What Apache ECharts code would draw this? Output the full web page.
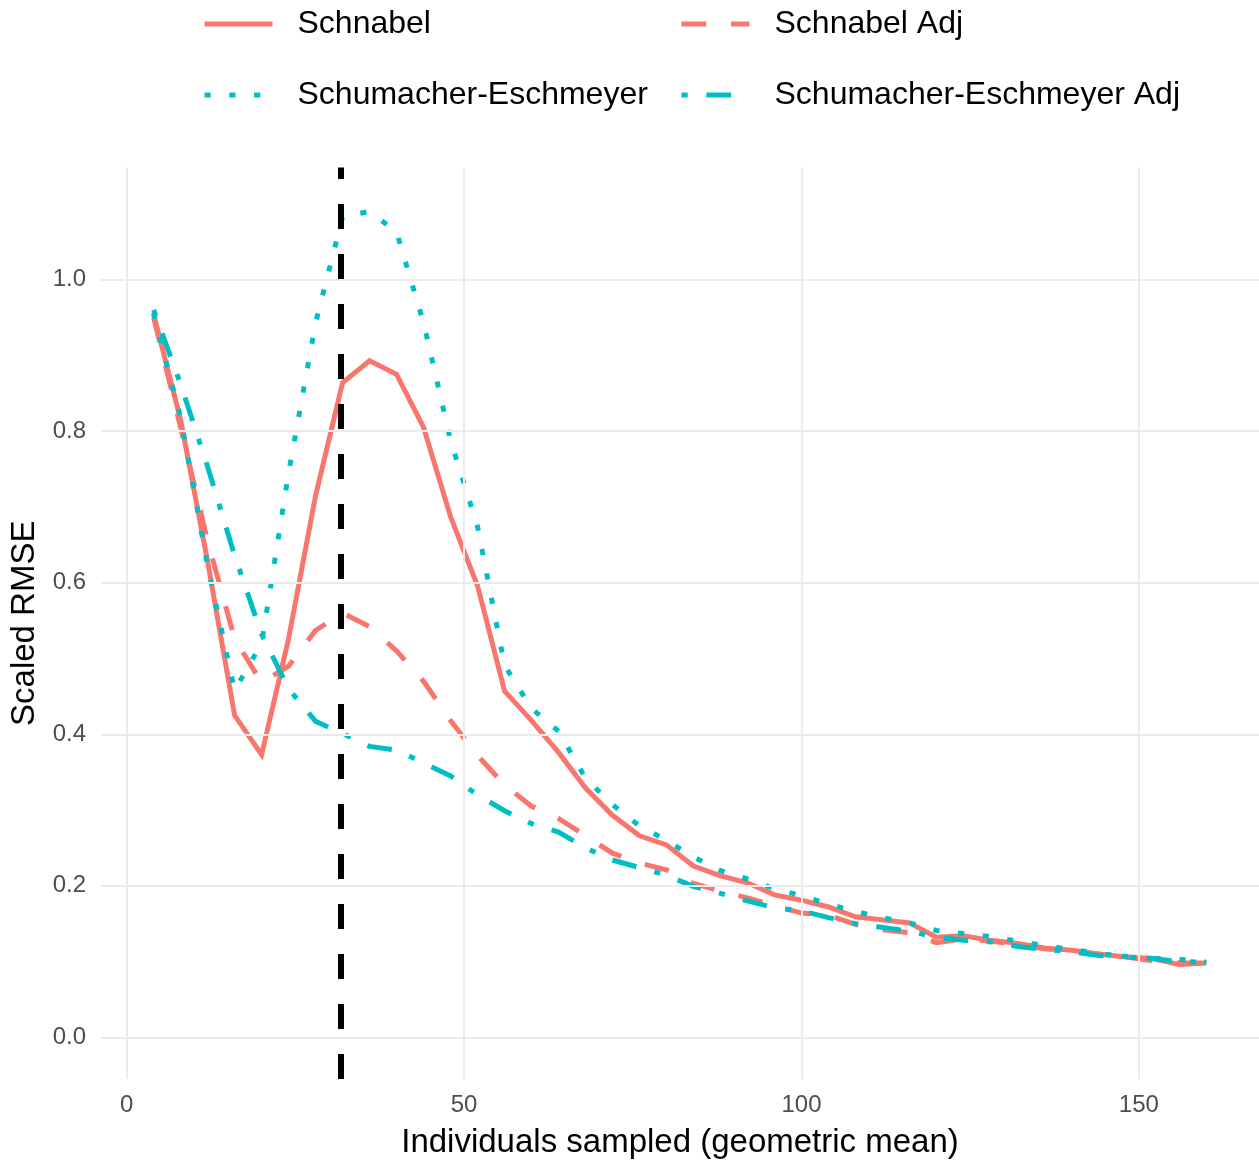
<!DOCTYPE html>
<html><head><meta charset="utf-8">
<script src="https://cdn.jsdelivr.net/npm/echarts@6/dist/echarts.min.js"></script>
<style>html,body{margin:0;padding:0;background:#fff}#c{width:1259px;height:1164px}</style>
</head><body><div id="c"></div>
<script>
const xs = [4,8,12,16,20,24,28,32,36,40,44,48,52,56,60,64,68,72,76,80,84,88,92,96,100,104,108,112,116,120,124,128,132,136,140,144,148,152,156,160];
const schnabel = [0.954,0.815,0.628,0.425,0.373,0.526,0.715,0.864,0.893,0.875,0.805,0.687,0.596,0.457,0.418,0.376,0.329,0.293,0.266,0.254,0.226,0.213,0.204,0.188,0.181,0.172,0.159,0.155,0.151,0.132,0.134,0.128,0.124,0.118,0.115,0.110,0.106,0.104,0.096,0.098];
const schnabelAdj = [0.950,0.805,0.655,0.526,0.468,0.490,0.537,0.560,0.542,0.510,0.470,0.418,0.372,0.333,0.305,0.289,0.266,0.243,0.230,0.221,0.203,0.193,0.184,0.174,0.164,0.161,0.149,0.142,0.138,0.125,0.130,0.127,0.122,0.117,0.114,0.110,0.106,0.101,0.098,0.098];
const schumEsch = [0.956,0.818,0.622,0.458,0.520,0.745,0.943,1.083,1.090,1.063,0.943,0.788,0.674,0.491,0.434,0.404,0.342,0.307,0.279,0.260,0.238,0.220,0.209,0.196,0.187,0.176,0.166,0.158,0.151,0.141,0.137,0.133,0.127,0.121,0.116,0.111,0.106,0.104,0.103,0.099];
const schumEschAdj = [0.960,0.862,0.753,0.636,0.532,0.460,0.417,0.401,0.384,0.379,0.362,0.345,0.320,0.299,0.282,0.271,0.250,0.234,0.224,0.214,0.199,0.190,0.180,0.171,0.167,0.158,0.150,0.145,0.140,0.132,0.128,0.126,0.120,0.116,0.113,0.108,0.107,0.104,0.100,0.099];
const seriesNames = ['Schnabel','Schnabel Adj','Schumacher-Eschmeyer','Schumacher-Eschmeyer Adj'];
const xTicks = [0,50,100,150];
const yTicks = [0,0.2,0.4,0.6,0.8,1.0];
const vlineX = 31.7;

const FONT = '"Liberation Sans", Arial, sans-serif';
const RED = '#F8766D', TEAL = '#00BFC4';
const L = 6.2;
const dashes = ['solid', [4*L,4*L], [L,3*L], [L,3*L,4*L,3*L]];
const colors = [RED, RED, TEAL, TEAL];
const values = [schnabel, schnabelAdj, schumEsch, schumEschAdj];

function pts(ys){ return xs.map((x,i)=>[x, ys[i]]); }

const lineSeries = seriesNames.map((n,i)=>({
  name: n, type:'line', data: pts(values[i]), symbol:'none', showSymbol:false,
  lineStyle:{color:colors[i], width:5, type:dashes[i], cap:'butt', join:'miter'},
  itemStyle:{color:colors[i]},
  emphasis:{disabled:true}, z:3, animation:false
}));

const gridSeries = {
  name:'__grid', type:'line', data:[], z:1, silent:true, animation:false,
  markLine:{
    silent:true, symbol:['none','none'], animation:false,
    label:{show:false},
    lineStyle:{color:'#EBEBEB', width:2, type:'solid'},
    emphasis:{disabled:true},
    data: yTicks.map(v=>({yAxis:v})).concat(xTicks.map(v=>({xAxis:v})))
  }
};
const vlineSeries = {
  name:'__vline', type:'line', data:[], z:5, silent:true, animation:false,
  markLine:{
    silent:true, symbol:['none','none'], animation:false,
    label:{show:false},
    lineStyle:{color:'#000000', width:6, type:[25,25], cap:'butt'},
    emphasis:{disabled:true},
    data:[{xAxis:vlineX}]
  }
};

function legendFor(i, left, top){
  return {
    data:[seriesNames[i]], left:left, top:top,
    orient:'horizontal', itemWidth:68, itemHeight:20, padding:0, selectedMode:false,
    itemStyle:{opacity:0, borderWidth:0},
    lineStyle:{width:5, color:colors[i], type:dashes[i], cap:'butt'},
    textStyle:{fontSize:32, fontFamily:FONT, color:'#000', padding:[0,0,0,20], lineHeight:32}
  };
}
const legends = [
  legendFor(0, 202, 8),
  legendFor(1, 679, 8),
  legendFor(2, 202, 79),
  legendFor(3, 679, 79)
];

const chart = echarts.init(document.getElementById('c'), null, {renderer:'canvas'});
chart.setOption({
  backgroundColor:'#ffffff',
  animation:false,
  textStyle:{fontFamily:FONT},
  legend: legends,
  grid:{left:101, right:-5, top:167.5, bottom:82.2, containLabel:false},
  xAxis:{
    type:'value', min:-3.8, max:167.8,
    axisLine:{show:false}, axisTick:{show:false}, splitLine:{show:false},
    axisLabel:{customValues:xTicks, fontSize:24, color:'#4D4D4D', fontFamily:FONT, margin:14,
      showMinLabel:true, showMaxLabel:true},
    name:'Individuals sampled (geometric mean)', nameLocation:'middle', nameGap:47,
    nameTextStyle:{fontSize:33, color:'#000', fontFamily:FONT}
  },
  yAxis:{
    type:'value', min:-0.055, max:1.148,
    axisLine:{show:false}, axisTick:{show:false}, splitLine:{show:false},
    axisLabel:{customValues:yTicks, fontSize:24, color:'#4D4D4D', fontFamily:FONT, margin:15,
      formatter:(v)=>Number(v).toFixed(1)},
    name:'Scaled RMSE', nameLocation:'middle', nameGap:58, nameRotate:90,
    nameTextStyle:{fontSize:33, color:'#000', fontFamily:FONT}
  },
  series:[gridSeries].concat(lineSeries).concat([vlineSeries])
});
</script>
</body></html>
